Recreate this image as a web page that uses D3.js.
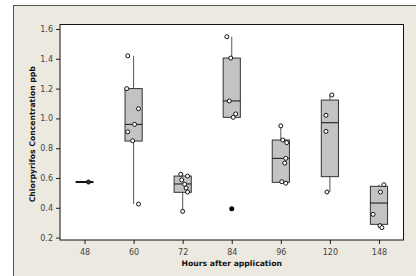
<!DOCTYPE html>
<html><head><meta charset="utf-8">
<script src="https://cdn.jsdelivr.net/npm/d3@7"></script>
<style>body{margin:0;background:#fff}svg{display:block}</style>
</head><body>
<script>
const categories = ["48","60","72","84","96","120","148"];
const q1        = [0.573, 0.848, 0.504, 1.007, 0.571, 0.609, 0.289];
const median    = [0.573, 0.960, 0.560, 1.117, 0.732, 0.971, 0.432];
const q3        = [0.573, 1.200, 0.613, 1.405, 0.855, 1.123, 0.544];
const whiskerLo = [0.573, 0.425, 0.376, 1.007, 0.565, 0.506, 0.267];
const whiskerHi = [0.573, 1.420, 0.625, 1.548, 0.950, 1.157, 0.555];
const points = [
  [0.573],
  [1.420, 1.200, 1.065, 0.960, 0.910, 0.850, 0.425],
  [0.625, 0.613, 0.587, 0.558, 0.533, 0.506, 0.376],
  [1.548, 1.405, 1.117, 1.030, 1.007],
  [0.950, 0.855, 0.837, 0.732, 0.700, 0.575, 0.565],
  [1.157, 1.021, 0.913, 0.506],
  [0.555, 0.506, 0.356, 0.280, 0.267]
];
// horizontal jitter of each point, as fraction of category step
const jitter = [
  [0.08],
  [-0.12, -0.14, 0.10, 0.02, -0.12, -0.02, 0.10],
  [-0.04, 0.10, -0.02, 0.04, 0.07, 0.10, 0.0],
  [-0.10, -0.02, -0.05, 0.08, 0.03],
  [0.0, 0.04, 0.12, 0.10, 0.08, 0.02, 0.10],
  [0.04, -0.08, -0.08, -0.06],
  [0.10, 0.03, -0.12, 0.02, 0.06]
];
const outlierCat = ["84"];
const outlierVal = [0.394];
const yTicks = [0.2, 0.4, 0.6, 0.8, 1.0, 1.2, 1.4, 1.6];

const W = 416, H = 276;
const svg = d3.select("body").append("svg").attr("width", W).attr("height", H);
const font = "DejaVu Sans, Verdana, sans-serif";

svg.append("rect").attr("x", 13.5).attr("y", 5.5).attr("width", 420).attr("height", 290)
  .attr("fill", "#ece9e0").attr("stroke", "#555").attr("stroke-width", 1);

const L = 60, R = 403.5, T = 24.5, B = 240;
svg.append("rect").attr("x", L).attr("y", T).attr("width", R - L).attr("height", B - T)
  .attr("fill", "#fff");

const x = d3.scalePoint().domain(categories).range([L, R]).padding(0.5);
const y = d3.scaleLinear().domain([0.2, 1.6]).range([237.6, 29]);
const step = x.step();
const bw = step * 0.35;

const yAxis = svg.append("g").attr("transform", `translate(${L},0)`)
  .call(d3.axisLeft(y).tickValues(yTicks).tickFormat(d3.format(".1f")).tickSize(4).tickSizeOuter(0));
const xAxis = svg.append("g").attr("transform", `translate(0,${B})`)
  .call(d3.axisBottom(x).tickSize(4).tickSizeOuter(0));
[yAxis, xAxis].forEach(a => {
  a.select(".domain").remove();
  a.selectAll("line").attr("stroke", "#222");
  a.selectAll("text").attr("fill", "#444").style("font-family", font).style("font-size", "8px");
});
xAxis.selectAll("text").attr("dy", "1em");

const g = svg.append("g");
categories.forEach((c, i) => {
  const cx = x(c);
  g.append("line").attr("x1", cx).attr("x2", cx).attr("y1", y(whiskerHi[i])).attr("y2", y(whiskerLo[i]))
    .attr("stroke", "#555").attr("stroke-width", 1);
  const flat = q1[i] === q3[i];
  g.append("rect").attr("x", cx - bw / 2).attr("y", y(q3[i])).attr("width", bw)
    .attr("height", Math.max(0.5, y(q1[i]) - y(q3[i])))
    .attr("fill", "#c3c3c3").attr("stroke", "#333").attr("stroke-width", 1);
  g.append("line").attr("x1", cx - bw / 2).attr("x2", cx + bw / 2).attr("y1", y(median[i])).attr("y2", y(median[i]))
    .attr("stroke", "#111").attr("stroke-width", flat ? 2 : 1);
  points[i].forEach((v, j) => {
    g.append("circle").attr("cx", cx + jitter[i][j] * step).attr("cy", y(v)).attr("r", 2)
      .attr("fill", flat ? "#333" : "#fff").attr("stroke", "#111").attr("stroke-width", 1);
  });
});
outlierCat.forEach((c, i) => {
  g.append("circle").attr("cx", x(c)).attr("cy", y(outlierVal[i])).attr("r", 2.5).attr("fill", "#000");
});

svg.append("rect").attr("x", L).attr("y", T).attr("width", R - L).attr("height", B - T)
  .attr("fill", "none").attr("stroke", "#111").attr("stroke-width", 1);

svg.append("text").attr("x", (L + R) / 2).attr("y", 265.5).attr("text-anchor", "middle")
  .style("font-family", font).style("font-size", "7.7px").style("font-weight", "bold").attr("fill", "#111")
  .text("Hours after application");
svg.append("text").attr("transform", `translate(35,${(T + B) / 2 + 2}) rotate(-90)`).attr("text-anchor", "middle")
  .style("font-family", font).style("font-size", "7.7px").style("font-weight", "bold").attr("fill", "#111")
  .text("Chlorpyrifos Concentration ppb");
</script>
</body></html>
